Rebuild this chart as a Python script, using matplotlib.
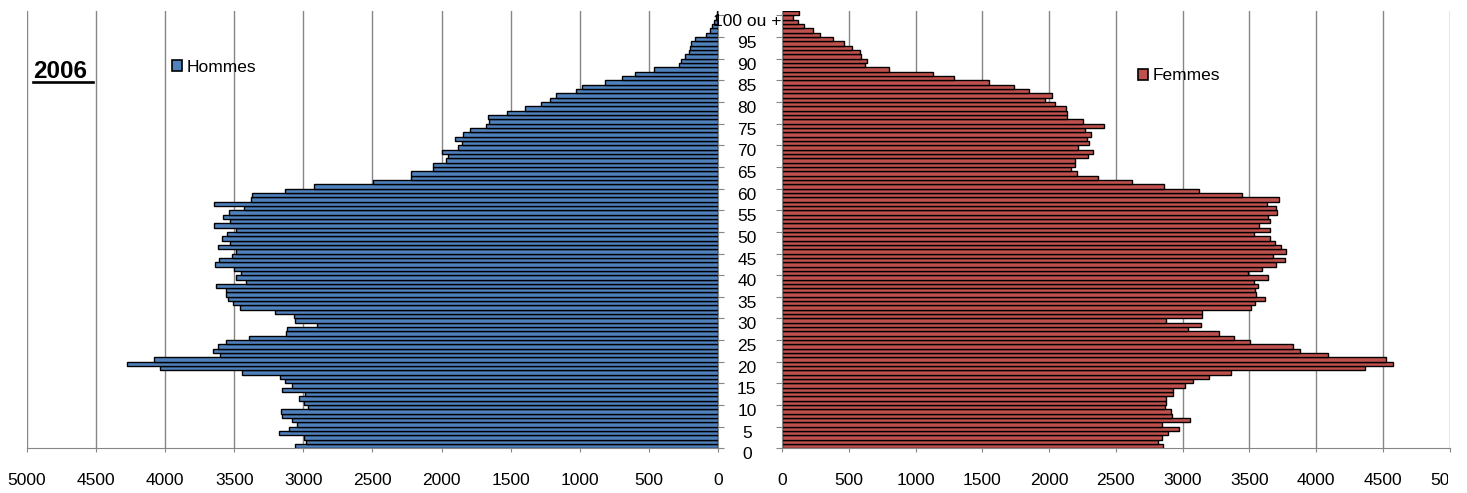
import numpy as np
import matplotlib.pyplot as plt
from matplotlib.patches import Patch
from matplotlib.lines import Line2D
from matplotlib import transforms

plt.rcParams['font.family'] = ['Liberation Sans', 'DejaVu Sans']

# population by age, 0 .. "100 ou +"
ages = np.arange(101)
hommes = [3059, 2984, 2994, 3175, 3107, 3045, 3079, 3158, 3164, 2970,
          2994, 3031, 2987, 3154, 3083, 3130, 3168, 3444, 4041, 4273,
          4078, 3604, 3652, 3615, 3557, 3396, 3124, 3118, 2905, 3059,
          3066, 3209, 3461, 3506, 3546, 3557, 3557, 3635, 3413, 3485,
          3454, 3499, 3642, 3608, 3516, 3485, 3615, 3533, 3587, 3550,
          3485, 3649, 3533, 3580, 3540, 3430, 3649, 3376, 3369, 3130,
          2923, 2499, 2224, 2224, 2065, 2065, 1970, 1951, 1995, 1879,
          1852, 1903, 1845, 1794, 1678, 1654, 1661, 1528, 1395, 1279,
          1214, 1173, 1026, 982, 818, 692, 597, 460, 280, 266,
          237, 212, 205, 193, 169, 85, 56, 40, 28, 15,
          10]
femmes = [2856, 2819, 2845, 2892, 2977, 2845, 3054, 2922, 2914, 2867,
          2874, 2878, 2929, 2929, 3021, 3079, 3197, 3365, 4364, 4575,
          4525, 4090, 3880, 3830, 3508, 3387, 3274, 3043, 3138, 2874,
          3145, 3145, 3512, 3545, 3618, 3552, 3545, 3567, 3538, 3637,
          3490, 3593, 3699, 3765, 3677, 3772, 3739, 3695, 3655, 3538,
          3659, 3574, 3659, 3637, 3710, 3703, 3633, 3725, 3442, 3124,
          2863, 2625, 2365, 2207, 2163, 2192, 2192, 2291, 2332, 2214,
          2299, 2284, 2313, 2273, 2409, 2255, 2134, 2134, 2126, 2046,
          1969, 2024, 1851, 1741, 1554, 1287, 1133, 800, 620, 638,
          590, 583, 524, 462, 385, 282, 235, 165, 122, 80,
          130]
age_ticks = list(range(0, 101, 5))
age_labels = [str(a) for a in age_ticks[:-1]] + ['100 ou +']
x_ticks = list(range(0, 5001, 500))

W, H = 1467, 493
fig = plt.figure(figsize=(W / 100, H / 100), dpi=100)
ax_l = fig.add_axes([27 / W, 1 - 448.4 / H, 691 / W, 437.4 / H])
ax_r = fig.add_axes([782 / W, 1 - 448.4 / H, 667.5 / W, 437.4 / H])

grid_col = '#868686'
blue = '#4F81BD'
red = '#C0504D'

ax_l.barh(ages, hommes, height=1.0, color=blue, edgecolor='black', lw=1.0)
ax_r.barh(ages, femmes, height=1.0, color=red, edgecolor='black', lw=1.0)

for ax in (ax_l, ax_r):
    ax.set_ylim(-0.5, 100.5)
    ax.set_xticks(x_ticks)
    ax.set_xticklabels([str(v) for v in x_ticks])
    ax.grid(axis='x', color=grid_col, lw=1.0)
    ax.set_axisbelow(True)
    for s in ax.spines.values():
        s.set_visible(False)
    ax.spines['bottom'].set_visible(True)
    ax.spines['bottom'].set_color(grid_col)
    ax.tick_params(axis='x', length=3, color=grid_col, labelsize=12.5, pad=15)
    ax.set_yticks([a - 0.5 for a in age_ticks])

ax_l.set_xlim(5000, 0)
ax_r.set_xlim(0, 5000)

# left side: axis line on the right, no labels
ax_l.yaxis.tick_right()
ax_l.spines['right'].set_visible(True)
ax_l.spines['right'].set_color(grid_col)
ax_l.set_yticklabels([])
ax_l.tick_params(axis='y', length=4, color=grid_col)

# right side: age labels centred between the two halves
ax_r.spines['left'].set_visible(True)
ax_r.spines['left'].set_color(grid_col)
ax_r.set_yticklabels(age_labels)
ax_r.tick_params(axis='y', length=4.3, color=grid_col, labelsize=12.5, pad=21)
shift = transforms.ScaledTranslation(0, -5 / 100, fig.dpi_scale_trans)
for lab in ax_r.get_yticklabels():
    lab.set_horizontalalignment('center')
    lab.set_transform(lab.get_transform() + shift)

# last label is cut at the picture edge
last = ax_r.get_xticklabels()[-1]
last.set_clip_box(transforms.TransformedBbox(
    transforms.Bbox.from_extents(0, 0, 1448 / W, 1), fig.transFigure))
last.set_clip_on(True)

ax_l.legend(handles=[Patch(fc=blue, ec='black', lw=1.2, label='Hommes')],
            loc='center left', bbox_to_anchor=(172 / W, 1 - 67 / H),
            bbox_transform=fig.transFigure, frameon=False, fontsize=12.5,
            handlelength=0.6, handleheight=0.6, handletextpad=0.25,
            borderpad=0, borderaxespad=0)
ax_r.legend(handles=[Patch(fc=red, ec='black', lw=1.2, label='Femmes')],
            loc='center left', bbox_to_anchor=(1138 / W, 1 - 76 / H),
            bbox_transform=fig.transFigure, frameon=False, fontsize=12.5,
            handlelength=0.6, handleheight=0.6, handletextpad=0.25,
            borderpad=0, borderaxespad=0)

fig.text(33 / W, 1 - 78 / H, '2006', fontsize=17.5, fontweight='bold',
         ha='left', va='baseline')
fig.add_artist(Line2D([33 / W, 93 / W], [1 - 82 / H] * 2, lw=1.9,
                      color='black'))

fig.savefig('out.png', dpi=100)
